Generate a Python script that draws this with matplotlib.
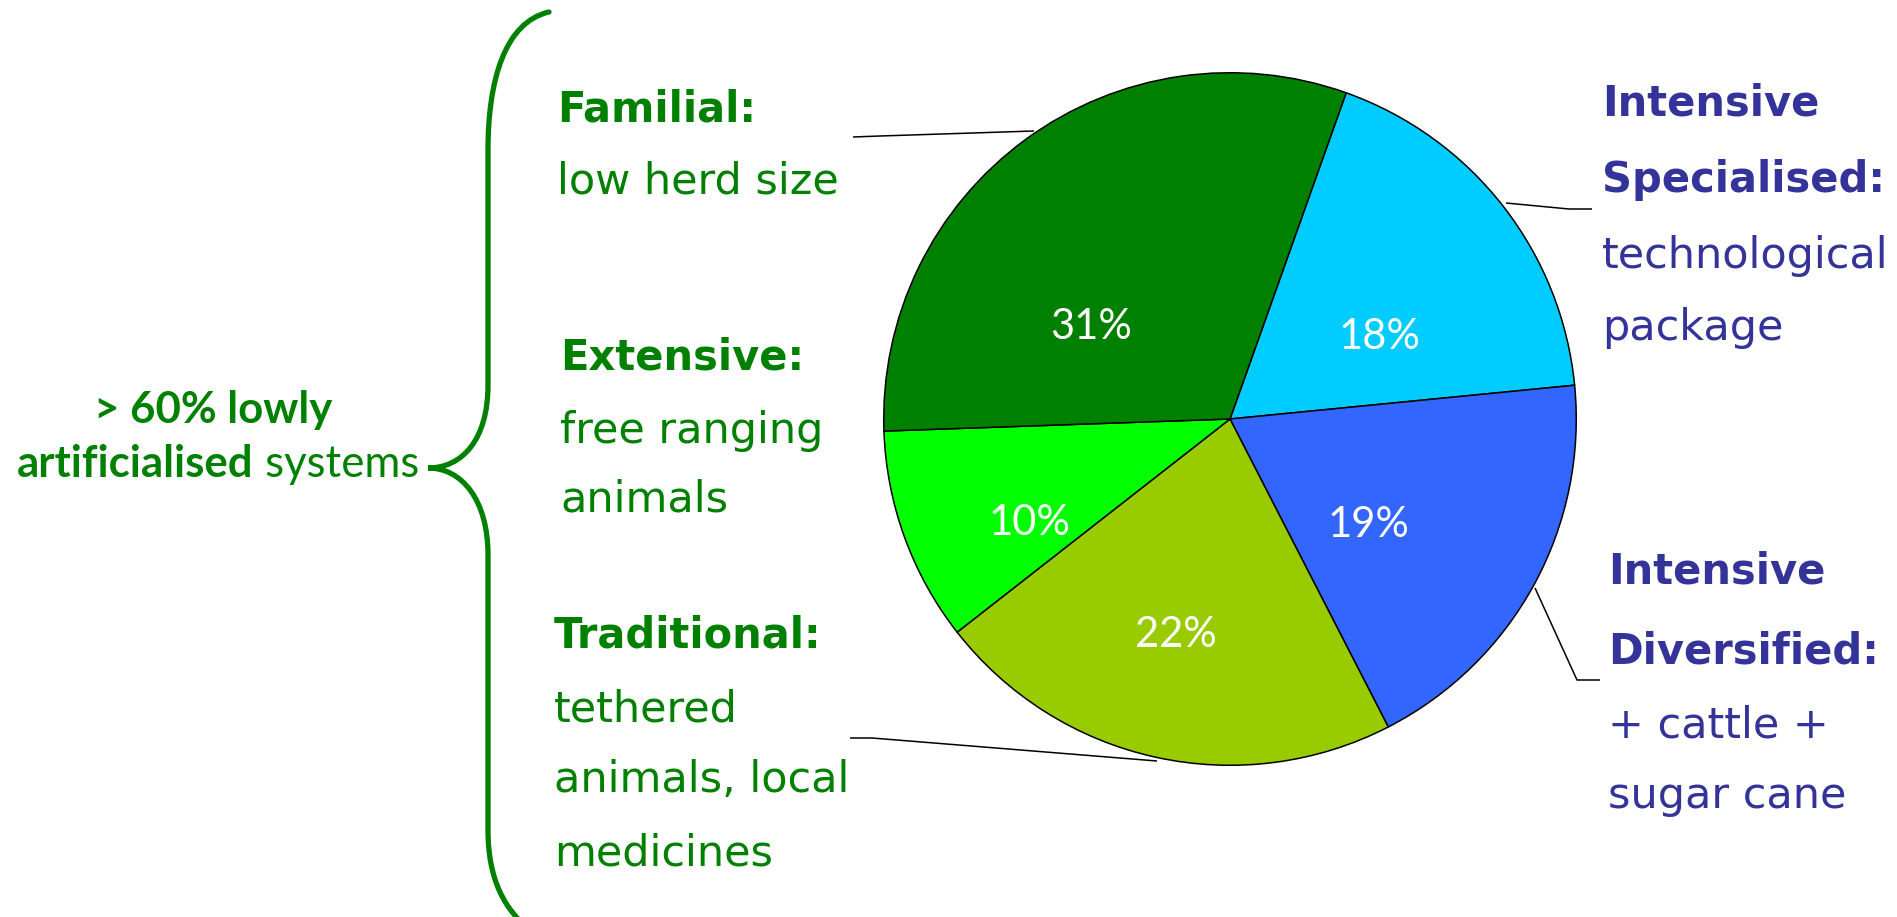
import matplotlib

matplotlib.use('Agg')

import matplotlib.pyplot as plt
from matplotlib.path import Path
from matplotlib.patches import PathPatch

# data
labels = ['Intensive Specialised', 'Intensive Diversified', 'Traditional', 'Extensive', 'Familial']
shares = [18, 19, 22, 10, 31]
colors = ['#00CCFF', '#3366FF', '#99CC00', '#00FF00', '#008000']

# where the % labels sit inside the pie (in pie radius units)
pct_pos = [(0.431, 0.236), (0.399, -0.305), (-0.155, -0.624), (-0.580, -0.299), (-0.402, 0.267)]

green_txt = '#008000'
blue_txt = '#333399'
hand_font = 'DejaVu Sans'

W, H = 1897, 917
fig = plt.figure(figsize=(W / 100, H / 100), dpi=100)

# overlay in pixel coords for text, brace, leader lines
ov = fig.add_axes([0, 0, 1, 1])
ov.set_xlim(0, W)
ov.set_ylim(H, 0)
ov.axis('off')

# pie
cx, cy, r = 1230, 419, 348
ax = fig.add_axes([(cx - r) / W, 1 - (cy + r) / H, 2 * r / W, 2 * r / H])
wedges, _, autotexts = ax.pie(shares, colors=colors, startangle=70.4, counterclock=False,
                              autopct='%d%%', radius=1,
                              wedgeprops=dict(edgecolor='black', linewidth=1.1),
                              textprops=dict(color='white', fontsize=30, family='Lato'))
for t, p in zip(autotexts, pct_pos):
    t.set_position(p)
    t.set_ha('center')
    t.set_va('center')
ax.set_xlim(-1.005, 1.005)
ax.set_ylim(-1.005, 1.005)
ax.set_aspect('equal')

# leader lines
leaders = [
    [(853, 137), (880, 136), (1034, 131)],
    [(1592, 209), (1569, 209), (1506, 203)],
    [(1600, 680), (1577, 680), (1535, 588)],
    [(850, 738), (872, 738), (1157, 761)],
]
for pts in leaders:
    xs, ys = zip(*pts)
    ov.plot(xs, ys, color='black', lw=1.1, solid_capstyle='butt')

# curly brace
verts = [(549, 12), (505, 22), (488, 80), (488, 150),
         (488, 385),
         (488, 440), (462, 468), (428, 468),
         (462, 468), (488, 500), (488, 555),
         (488, 830),
         (488, 880), (505, 910), (530, 930)]
codes = [Path.MOVETO, Path.CURVE4, Path.CURVE4, Path.CURVE4,
         Path.LINETO,
         Path.CURVE4, Path.CURVE4, Path.CURVE4,
         Path.CURVE4, Path.CURVE4, Path.CURVE4,
         Path.LINETO,
         Path.CURVE4, Path.CURVE4, Path.CURVE4]
ov.add_patch(PathPatch(Path(verts, codes), facecolor='none', edgecolor=green_txt,
                       lw=3.8, capstyle='round'))


def label(x, y, s, color, bold=False, size=None):
    ov.text(x, y, s, color=color, family=hand_font, va='baseline', ha='left',
            fontsize=size or (30 if bold else 31), fontweight='bold' if bold else 'normal')


# left side group (green)
label(557, 121, 'Familial:', green_txt, bold=True)
label(557, 194, 'low herd size', green_txt)
label(560, 369, 'Extensive:', green_txt, bold=True)
label(560, 443, 'free ranging', green_txt)
label(560, 511, 'animals', green_txt)
label(554, 647, 'Traditional:', green_txt, bold=True)
label(554, 722, 'tethered', green_txt)
label(554, 792, 'animals, local', green_txt)
label(554, 866, 'medicines', green_txt)

# right side (blue)
label(1602, 115, 'Intensive', blue_txt, bold=True)
label(1602, 192, 'Specialised:', blue_txt, bold=True)
label(1602, 268, 'technological', blue_txt)
label(1602, 340, 'package', blue_txt)
label(1608, 583, 'Intensive', blue_txt, bold=True)
label(1608, 663, 'Diversified:', blue_txt, bold=True)
label(1608, 738, '+ cattle +', blue_txt)
label(1608, 808, 'sugar cane', blue_txt)

# brace caption
cap_size = 31.5
ov.text(213, 423, '> 60% lowly', color=green_txt, family='Lato', fontweight='bold',
        fontsize=cap_size, ha='center', va='baseline')
renderer = fig.canvas.get_renderer()
t1 = ov.text(0, 477, 'artificialised', color=green_txt, family='Lato', fontweight='bold',
             fontsize=cap_size, ha='left', va='baseline')
t2 = ov.text(0, 477, ' systems', color=green_txt, family='Lato',
             fontsize=cap_size, ha='left', va='baseline')
w1 = t1.get_window_extent(renderer).width
w2 = t2.get_window_extent(renderer).width
x0 = 419 - (w1 + w2)
t1.set_x(x0)
t2.set_x(x0 + w1)

fig.savefig('out.png', dpi=100, facecolor='white')
